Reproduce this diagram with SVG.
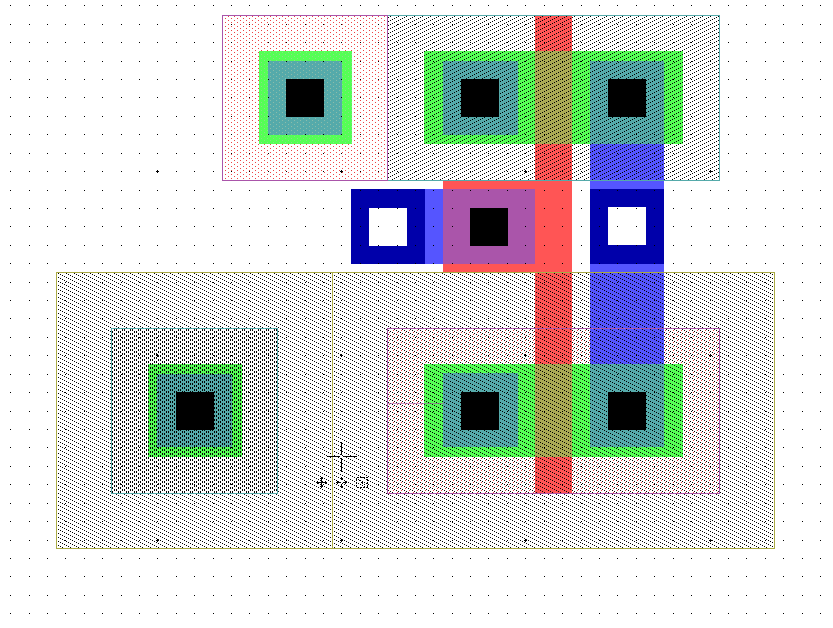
<svg xmlns="http://www.w3.org/2000/svg" width="833" height="628" viewBox="0 0 833 628" shape-rendering="crispEdges">
<style>
.green{fill:#55ff55}.teal{fill:#55aaaa}.red{fill:#ff5555}.blue{fill:#5555ff}.navy{fill:#0000aa}.purple{fill:#aa55aa}.olive{fill:#aaaa55}.black{fill:#000}.white{fill:#fff}
.pb{fill:none;stroke:#aa55aa}.cb{fill:none;stroke:#55aaaa}.yb{fill:none;stroke:#aaaa44}
.cur{fill:none;stroke:#000;stroke-width:1}
.pale{fill:url(#pale)}
</style>
<defs>
<pattern id="rise" width="8" height="4" patternUnits="userSpaceOnUse"><path d="M0 3h1v1h-1zM2 2h1v1h-1zM4 1h1v1h-1zM6 0h1v1h-1z"/></pattern>
<pattern id="fall" width="8" height="4" patternUnits="userSpaceOnUse"><path d="M0 0h1v1h-1zM2 1h1v1h-1zM4 2h1v1h-1zM6 3h1v1h-1z"/></pattern>
<pattern id="dots" width="6" height="4" patternUnits="userSpaceOnUse"><path d="M0 0h1v1h-1zM3 2h1v1h-1z" fill="#ee4444"/></pattern>
<pattern id="dots8" width="8" height="4" patternUnits="userSpaceOnUse"><path d="M1 2h1v1h-1zM5 0h1v1h-1z" fill="#ee4444"/></pattern>
<pattern id="pale" width="6" height="4" patternUnits="userSpaceOnUse"><path d="M0 0h1v1h-1zM3 2h1v1h-1z" fill="#b0c8a8" fill-opacity=".6"/></pattern>
<path id="row" d="M10 0h1v1h-1zM29 0h1v1h-1zM47 0h1v1h-1zM65 0h1v1h-1zM84 0h1v1h-1zM102 0h1v1h-1zM121 0h1v1h-1zM139 0h1v1h-1zM157 0h1v1h-1zM176 0h1v1h-1zM194 0h1v1h-1zM213 0h1v1h-1zM231 0h1v1h-1zM249 0h1v1h-1zM268 0h1v1h-1zM286 0h1v1h-1zM305 0h1v1h-1zM323 0h1v1h-1zM341 0h1v1h-1zM360 0h1v1h-1zM378 0h1v1h-1zM397 0h1v1h-1zM415 0h1v1h-1zM433 0h1v1h-1zM452 0h1v1h-1zM470 0h1v1h-1zM488 0h1v1h-1zM507 0h1v1h-1zM525 0h1v1h-1zM544 0h1v1h-1zM562 0h1v1h-1zM581 0h1v1h-1zM599 0h1v1h-1zM617 0h1v1h-1zM636 0h1v1h-1zM654 0h1v1h-1zM673 0h1v1h-1zM691 0h1v1h-1zM710 0h1v1h-1zM728 0h1v1h-1zM746 0h1v1h-1zM765 0h1v1h-1zM783 0h1v1h-1zM802 0h1v1h-1zM820 0h1v1h-1z"/>
</defs>
<rect width="833" height="628" fill="#fff"/>
<g id="stipple">
<rect x="223" y="16" width="165" height="165" fill="url(#dots)"/>
<rect x="388" y="329" width="331" height="164" fill="url(#dots8)"/>
</g>
<g id="fills">
<rect class="green" x="259" y="51" width="93" height="93"/>
<rect class="teal" x="268" y="61" width="74" height="74"/>
<rect class="pale" x="259" y="51" width="93" height="93"/>
<rect class="green" x="424" y="51" width="259" height="93"/>
<rect class="teal" x="443" y="61" width="75" height="74"/>
<rect class="red" x="535" y="15" width="37" height="478"/>
<rect class="olive" x="535" y="51" width="37" height="93"/>
<rect class="teal" x="590" y="61" width="74" height="83"/>
<rect class="blue" x="590" y="144" width="74" height="220"/>
<rect class="blue" x="425" y="189" width="18" height="75"/>
<rect class="red" x="443" y="181" width="129" height="91"/>
<rect class="purple" x="443" y="189" width="92" height="75"/>
<rect class="navy" x="351" y="189" width="74" height="75"/>
<rect class="white" x="369" y="208" width="38" height="38"/>
<rect class="navy" x="590" y="189" width="74" height="75"/>
<rect class="white" x="608" y="207" width="38" height="38"/>
<rect class="green" x="148" y="364" width="94" height="93"/>
<rect class="teal" x="157" y="374" width="75" height="73"/>
<rect class="green" x="424" y="364" width="111" height="93"/>
<rect class="green" x="572" y="364" width="111" height="93"/>
<rect class="olive" x="535" y="364" width="37" height="93"/>
<rect class="teal" x="443" y="373" width="75" height="74"/>
<rect class="teal" x="590" y="364" width="74" height="83"/>
</g>
<g id="hatches">
<rect x="388" y="16" width="331" height="164" fill="url(#rise)"/>
<rect x="57" y="273" width="717" height="275" fill="url(#fall)"/>
<rect x="112" y="329" width="166" height="164" fill="url(#rise)"/>
</g>
<g id="contacts">
<rect class="black" x="286" y="79" width="38" height="38"/>
<rect class="black" x="461" y="79" width="38" height="38"/>
<rect class="black" x="608" y="79" width="38" height="38"/>
<rect class="black" x="470" y="208" width="38" height="38"/>
<rect class="black" x="176" y="392" width="38" height="38"/>
<rect class="black" x="461" y="392" width="38" height="38"/>
<rect class="black" x="608" y="392" width="38" height="38"/>
</g>
<g id="outlines">
<rect class="cb" x="387.500" y="15.500" width="332" height="165"/>
<rect class="pb" x="222.500" y="15.500" width="165" height="165"/>
<rect class="yb" x="56.500" y="272.500" width="718" height="276"/>
<path class="yb" d="M332.500 272.500V548.500"/>
<rect class="cb" x="111.500" y="328.500" width="166" height="165"/>
<rect class="pb" x="387.500" y="328.500" width="332" height="165"/>
<path d="M388 403.500H444" stroke="#aa55aa" stroke-width="1" fill="none" opacity=".6"/>
</g>
<g id="grid">
<use href="#row" y="5"/><use href="#row" y="24"/><use href="#row" y="42"/><use href="#row" y="61"/><use href="#row" y="79"/><use href="#row" y="97"/><use href="#row" y="116"/><use href="#row" y="134"/><use href="#row" y="153"/><use href="#row" y="171"/><use href="#row" y="190"/><use href="#row" y="208"/><use href="#row" y="226"/><use href="#row" y="245"/><use href="#row" y="263"/><use href="#row" y="282"/><use href="#row" y="300"/><use href="#row" y="318"/><use href="#row" y="337"/><use href="#row" y="355"/><use href="#row" y="374"/><use href="#row" y="392"/><use href="#row" y="411"/><use href="#row" y="429"/><use href="#row" y="447"/><use href="#row" y="466"/><use href="#row" y="484"/><use href="#row" y="503"/><use href="#row" y="521"/><use href="#row" y="540"/><use href="#row" y="558"/><use href="#row" y="576"/><use href="#row" y="595"/><use href="#row" y="613"/>
<path d="M156 171h3v1h-3zM157 170h1v3h-1zM340 171h3v1h-3zM341 170h1v3h-1zM524 171h3v1h-3zM525 170h1v3h-1zM709 171h3v1h-3zM710 170h1v3h-1zM156 355h3v1h-3zM157 354h1v3h-1zM340 355h3v1h-3zM341 354h1v3h-1zM524 355h3v1h-3zM525 354h1v3h-1zM709 355h3v1h-3zM710 354h1v3h-1zM156 540h3v1h-3zM157 539h1v3h-1zM340 540h3v1h-3zM341 539h1v3h-1zM524 540h3v1h-3zM525 539h1v3h-1zM709 540h3v1h-3zM710 539h1v3h-1z"/>
</g>
<g id="cursor">
<path class="cur" d="M327 456.500H340M343 456.500H357M341.500 442V455M341.500 458V472"/>
<path class="cur" d="M316 482.500H327M321.500 477V488M320 478.500H323M320 486.500H323M317.500 481V484M325.500 481V484"/>
<path class="cur" d="M336 482.500H340M343 482.500H347M341.500 477V480M341.500 485V488M340 478.500H343M340 486.500H343M337.500 481V484M345.500 481V484"/>
<path class="cur" stroke-dasharray="2 1" d="M356.500 477.500H367.500V487.500H356.500ZM359 480L365 485"/>
</g>
</svg>
